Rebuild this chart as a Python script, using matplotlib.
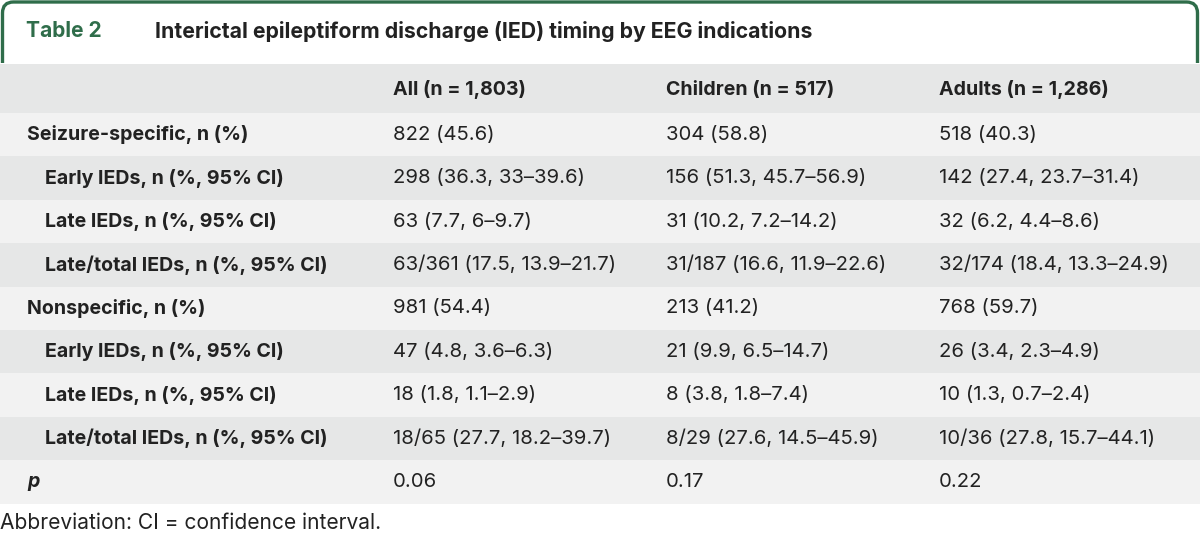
import matplotlib
matplotlib.use("Agg")
import matplotlib.pyplot as plt
from matplotlib.path import Path
from matplotlib.patches import PathPatch, Rectangle

# ── Table content ─────────────────────────────────────────────────────────────

TABLE_NO = "Table 2"
TITLE = "Interictal epileptiform discharge (IED) timing by EEG indications"
COLUMNS = ["All (n = 1,803)", "Children (n = 517)", "Adults (n = 1,286)"]

ROW_LABELS = [
    "Seizure-specific, n (%)",
    "Early IEDs, n (%, 95% CI)",
    "Late IEDs, n (%, 95% CI)",
    "Late/total IEDs, n (%, 95% CI)",
    "Nonspecific, n (%)",
    "Early IEDs, n (%, 95% CI)",
    "Late IEDs, n (%, 95% CI)",
    "Late/total IEDs, n (%, 95% CI)",
    "p",
]
INDENTED = [False, True, True, True, False, True, True, True, False]

ALL_VALS = [
    "822 (45.6)", "298 (36.3, 33–39.6)", "63 (7.7, 6–9.7)",
    "63/361 (17.5, 13.9–21.7)", "981 (54.4)", "47 (4.8, 3.6–6.3)",
    "18 (1.8, 1.1–2.9)", "18/65 (27.7, 18.2–39.7)", "0.06",
]
CHILDREN_VALS = [
    "304 (58.8)", "156 (51.3, 45.7–56.9)", "31 (10.2, 7.2–14.2)",
    "31/187 (16.6, 11.9–22.6)", "213 (41.2)", "21 (9.9, 6.5–14.7)",
    "8 (3.8, 1.8–7.4)", "8/29 (27.6, 14.5–45.9)", "0.17",
]
ADULTS_VALS = [
    "518 (40.3)", "142 (27.4, 23.7–31.4)", "32 (6.2, 4.4–8.6)",
    "32/174 (18.4, 13.3–24.9)", "768 (59.7)", "26 (3.4, 2.3–4.9)",
    "10 (1.3, 0.7–2.4)", "10/36 (27.8, 15.7–44.1)", "0.22",
]

FOOTNOTE = "Abbreviation: CI = confidence interval."

# ── Style ─────────────────────────────────────────────────────────────────────

GREEN = "#2f6d4a"
DARK = "#222222"
GRAY_DARK = "#e6e7e7"
GRAY_LIGHT = "#f2f2f2"
FONT = ["Inter", "DejaVu Sans"]
FS_VAL = 14.6
FS_LAB = 14.1
FS_TITLE = 15.3
FS_FOOT = 15.1

W, H = 1200, 543
HEAD_TOP, HEAD_BOT = 64, 113
ROW_H = 43.4
COL_X = [393, 666, 939]
LABEL_X, INDENT_X = 27, 45

fig = plt.figure(figsize=(W / 100, H / 100), dpi=100)
ax = fig.add_axes([0, 0, 1, 1])
ax.set_xlim(0, W)
ax.set_ylim(H, 0)
ax.axis("off")

# green frame around the title, open at the bottom, rounded top corners
r = 11
x0, x1, y0, y1 = 2.5, W - 2.5, 2, 63
verts = [(x0, y1), (x0, y0 + r), (x0, y0), (x0 + r, y0),
         (x1 - r, y0), (x1, y0), (x1, y0 + r), (x1, y1)]
codes = [Path.MOVETO, Path.LINETO, Path.CURVE3, Path.CURVE3,
         Path.LINETO, Path.CURVE3, Path.CURVE3, Path.LINETO]
ax.add_patch(PathPatch(Path(verts, codes), fill=False, edgecolor=GREEN,
                       lw=2.4, capstyle="butt"))

ax.text(26, 31, TABLE_NO, color=GREEN, fontsize=15.1, fontweight="bold",
        family=FONT, va="center", ha="left")
ax.text(155, 31, TITLE, color=DARK, fontsize=FS_TITLE, fontweight="bold",
        family=FONT, va="center", ha="left")

# header band
ax.add_patch(Rectangle((0, HEAD_TOP), W, HEAD_BOT - HEAD_TOP,
                       facecolor=GRAY_DARK, edgecolor="none"))
yh = (HEAD_TOP + HEAD_BOT) / 2 + 1
for x, col in zip(COL_X, COLUMNS):
    ax.text(x, yh, col, color=DARK, fontsize=FS_LAB, fontweight="bold",
            family=FONT, va="center", ha="left")

# body rows
for i, label in enumerate(ROW_LABELS):
    top = HEAD_BOT + i * ROW_H
    shade = GRAY_LIGHT if i % 2 == 0 else GRAY_DARK
    ax.add_patch(Rectangle((0, top), W, ROW_H, facecolor=shade, edgecolor="none"))
    yc = top + ROW_H / 2
    lx = INDENT_X if INDENTED[i] else LABEL_X
    style = "italic" if label == "p" else "normal"
    ax.text(lx, yc, label, color=DARK, fontsize=FS_LAB, fontweight="bold",
            fontstyle=style, family=FONT, va="center", ha="left")
    for x, vals in zip(COL_X, [ALL_VALS, CHILDREN_VALS, ADULTS_VALS]):
        ax.text(x, yc, vals[i], color=DARK, fontsize=FS_VAL, family=FONT,
                va="center", ha="left")

ax.text(0, 523, FOOTNOTE, color=DARK, fontsize=FS_FOOT, family=FONT,
        va="center", ha="left")

fig.savefig("out.png", dpi=100, facecolor="white")
